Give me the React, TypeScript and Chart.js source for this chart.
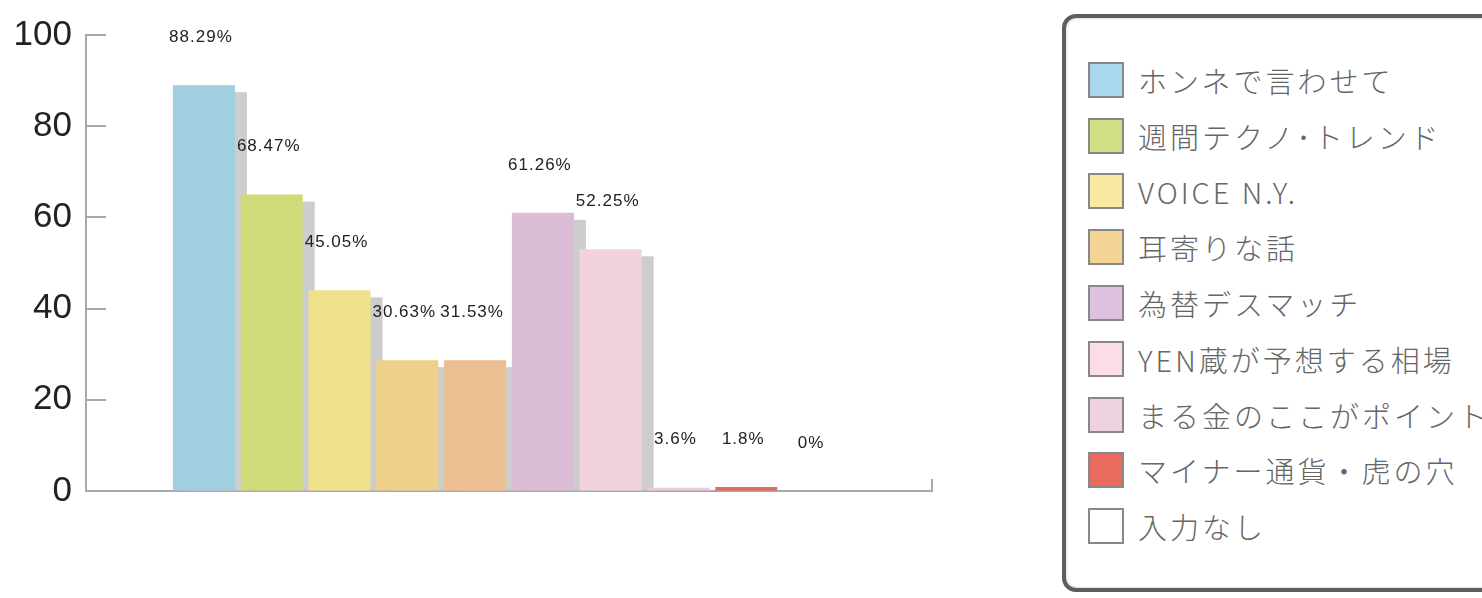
import React, { useEffect, useRef } from 'react';
import { Chart, registerables } from 'chart.js';

Chart.register(...registerables);

// Bar heights as drawn in the picture, and the percentage texts printed above them
const barValues = [89, 65, 44, 28.7, 28.7, 61, 53, 0.7, 0.9, 0];
const valueLabels = ['88.29%', '68.47%', '45.05%', '30.63%', '31.53%', '61.26%', '52.25%', '3.6%', '1.8%', '0%'];
const barColors = ['#a2cfdf', '#cfdb79', '#f0e28c', '#f0d088', '#ebbf91', '#dbbcd6', '#f2d3dd', '#efcada', '#e8685c', '#ffffff'];
const yTicks = [0, 20, 40, 60, 80, 100];

const legendLabels = [
  'ホンネで言わせて',
  '週間テクノ･トレンド',
  'VOICE N.Y.',
  '耳寄りな話',
  '為替デスマッチ',
  'YEN蔵が予想する相場',
  'まる金のここがポイント',
  'マイナー通貨・虎の穴',
  '入力なし',
];
const legendColors = ['#a9d8ec', '#d2de86', '#f8e8a0', '#f4d496', '#dcc2de', '#fcdde5', '#eed2e0', '#e86b5e', '#ffffff'];

const AXIS_COLOR = '#a8a8a8';

const shadowPlugin = {
  id: 'barShadow',
  beforeDatasetsDraw(chart: any) {
    const ctx = chart.ctx;
    const meta = chart.getDatasetMeta(0);
    ctx.save();
    ctx.fillStyle = '#cdcdcd';
    meta.data.forEach((el: any) => {
      const { x, y, base, width } = el.getProps(['x', 'y', 'base', 'width'], true);
      const h = base - y - 7;
      if (h <= 0) return;
      ctx.fillRect(x - width / 2 + 12, y + 7, width, h);
    });
    ctx.restore();
  },
};

const labelPlugin = {
  id: 'valueLabels',
  afterDatasetsDraw(chart: any) {
    const ctx = chart.ctx;
    const meta = chart.getDatasetMeta(0);
    ctx.save();
    ctx.fillStyle = '#222222';
    ctx.font = '17px "Liberation Sans", Arial, sans-serif';
    (ctx as any).letterSpacing = '1px';
    ctx.textAlign = 'center';
    ctx.textBaseline = 'middle';
    meta.data.forEach((el: any, i: number) => {
      const { x, y } = el.getProps(['x', 'y'], true);
      ctx.fillText(valueLabels[i], x - 3, y - 48);
    });
    ctx.restore();
  },
};

const innerTicksPlugin = {
  id: 'innerTicks',
  afterDraw(chart: any) {
    const ctx = chart.ctx;
    const ys = chart.scales.y;
    const area = chart.chartArea;
    ctx.save();
    ctx.strokeStyle = AXIS_COLOR;
    ctx.lineWidth = 2;
    yTicks.forEach((v) => {
      const py = Math.round(ys.getPixelForValue(v));
      ctx.beginPath();
      ctx.moveTo(area.left, py);
      ctx.lineTo(area.left + 20, py);
      ctx.stroke();
    });
    ctx.beginPath();
    ctx.moveTo(area.right, area.bottom);
    ctx.lineTo(area.right, area.bottom - 12);
    ctx.stroke();
    ctx.restore();
  },
};

function BarChart() {
  const ref = useRef<HTMLCanvasElement | null>(null);
  useEffect(() => {
    if (!ref.current) return;
    const chart = new Chart(ref.current, {
      type: 'bar',
      data: {
        datasets: [
          {
            data: barValues.map((v, i) => ({ x: i, y: v })),
            backgroundColor: barColors,
            borderWidth: 0,
            barPercentage: 0.915,
            categoryPercentage: 1,
          },
        ],
      },
      options: {
        animation: false,
        responsive: false,
        maintainAspectRatio: false,
        layout: { padding: { top: 35, right: 28, bottom: 107, left: 0 } },
        plugins: { legend: { display: false }, tooltip: { enabled: false } },
        scales: {
          x: {
            type: 'linear',
            offset: false,
            min: -1.74,
            max: 10.74,
            grid: { display: true, drawOnChartArea: false, drawTicks: false },
            ticks: { display: false },
            border: { display: true, color: AXIS_COLOR, width: 2 },
            afterFit: (s: any) => {
              s.height = 0;
            },
          },
          y: {
            min: 0,
            max: 100,
            afterBuildTicks: (s: any) => {
              s.ticks = yTicks.map((v) => ({ value: v }));
            },
            grid: { display: true, drawOnChartArea: false, drawTicks: false },
            border: { display: true, color: AXIS_COLOR, width: 2 },
            ticks: {
              padding: 14,
              color: '#222222',
              font: { family: '"Liberation Sans", Arial, sans-serif', size: 35 },
            },
            afterFit: (s: any) => {
              s.width = 86;
            },
          },
        },
      } as any,
      plugins: [shadowPlugin, labelPlugin, innerTicksPlugin],
    });
    return () => chart.destroy();
  }, []);
  return (
    <canvas
      ref={ref}
      width={960}
      height={598}
      style={{ position: 'absolute', left: 0, top: 0, width: 960, height: 598 }}
    />
  );
}

export default function App() {
  return (
    <div
      style={{
        position: 'fixed',
        left: 0,
        top: 0,
        width: 1482,
        height: 598,
        background: '#ffffff',
        overflow: 'hidden',
      }}
    >
      <BarChart />
      <div
        style={{
          position: 'absolute',
          left: 1062,
          top: 14,
          width: 470,
          height: 578,
          boxSizing: 'border-box',
          border: '4px solid #5e5e5e',
          borderRadius: 14,
          boxShadow: 'inset 0 0 3px #bbbbbb',
          paddingTop: 34,
          paddingLeft: 22,
        }}
      >
        {legendLabels.map((label, i) => (
          <div
            key={label}
            style={{ display: 'flex', alignItems: 'center', height: 55.8, whiteSpace: 'nowrap' }}
          >
            <span
              style={{
                display: 'inline-block',
                width: 36,
                height: 36,
                boxSizing: 'border-box',
                border: '2px solid #888888',
                background: legendColors[i],
                flex: '0 0 auto',
              }}
            />
            <span
              style={{
                marginLeft: 14,
                fontFamily: '"Noto Sans CJK JP", "Noto Sans", sans-serif',
                fontSize: 29,
                fontWeight: 300,
                letterSpacing: 3,
                color: '#666666',
                lineHeight: '36px',
              }}
            >
              {label}
            </span>
          </div>
        ))}
      </div>
    </div>
  );
}
